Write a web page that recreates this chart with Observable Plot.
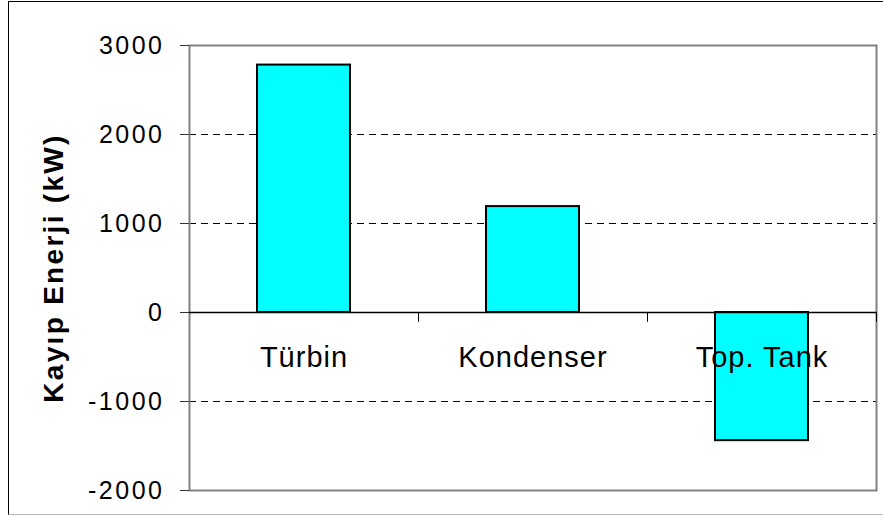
<!DOCTYPE html>
<html>
<head>
<meta charset="utf-8">
<script src="https://cdn.jsdelivr.net/npm/d3@7"></script>
<script src="https://cdn.jsdelivr.net/npm/@observablehq/plot@0.6"></script>
<style>
  html, body { margin: 0; padding: 0; background: #fff; }
  #wrap { position: relative; width: 883px; height: 516px; overflow: hidden; }
  #border { position: absolute; left: 8px; top: 1px; width: 900px; height: 512px; border: 1px solid #000; border-bottom-color: #bbb; pointer-events: none; }
  #wrap svg { font-family: "Liberation Sans", Arial, sans-serif; }
  #wrap g[aria-label="y-axis tick label"] text { font-size: 25px; letter-spacing: 2.5px; }
</style>
</head>
<body>
<div id="wrap"><div id="border"></div></div>
<script>
const categories = ["Türbin", "Kondenser", "Top. Tank"];
const values = [2780, 1190, -1440];
const yTicks = [3000, 2000, 1000, 0, -1000, -2000];
const gridValues = [2000, 1000, -1000];
const yLabel = "Kayıp Enerji (kW)";

const data = categories.map((c, i) => ({category: c, value: values[i]}));

const W = 883, H = 516;
const mL = 189, mR = 7, mT = 45, mB = 26;
const band = (W - mL - mR) / categories.length;

const chart = Plot.plot({
  width: W,
  height: H,
  marginLeft: mL,
  marginRight: mR,
  marginTop: mT,
  marginBottom: mB,
  style: {fontFamily: "'Liberation Sans', Arial, sans-serif", background: "transparent"},
  x: {domain: categories, paddingInner: 0.594, paddingOuter: 0.297, axis: null},
  y: {domain: [-2000, 3000], axis: null},
  marks: [
    Plot.ruleY(gridValues, {stroke: "#000", strokeWidth: 1, strokeDasharray: "7,5"}),
    Plot.frame({stroke: "#808080", strokeWidth: 2}),
    Plot.ruleX([0], {frameAnchor: "left", stroke: "#333", strokeWidth: 1.5}),
    Plot.axisY({ticks: yTicks, tickSize: 9, tickPadding: 16, fontSize: 25, stroke: "#333", fill: "#000", label: null, tickFormat: d => String(d)}),
    Plot.barY(data, {x: "category", y: "value", fill: "#00FFFF", stroke: "#000", strokeWidth: 2}),
    Plot.ruleY([0], {stroke: "#000", strokeWidth: 1.5}),
    Plot.ruleX(categories, {x: d => d, y1: 0, y2: -110, dx: band / 2, stroke: "#000", strokeWidth: 1}),
    Plot.text(categories, {x: d => d, y: 0, dy: 45, fontSize: 29, fill: "#000"}),
    Plot.text([yLabel], {frameAnchor: "left", textAnchor: "middle", dx: -135, rotate: -90, fontSize: 28, fontWeight: "bold", fill: "#000"})
  ]
});
const textGroups = d3.select(chart).selectAll('g[aria-label="text"]').nodes();
if (textGroups[0]) d3.select(textGroups[0]).selectAll("text").style("letter-spacing", "1px");
if (textGroups[1]) d3.select(textGroups[1]).selectAll("text").style("letter-spacing", "2.3px");
document.getElementById("wrap").prepend(chart);
</script>
</body>
</html>
